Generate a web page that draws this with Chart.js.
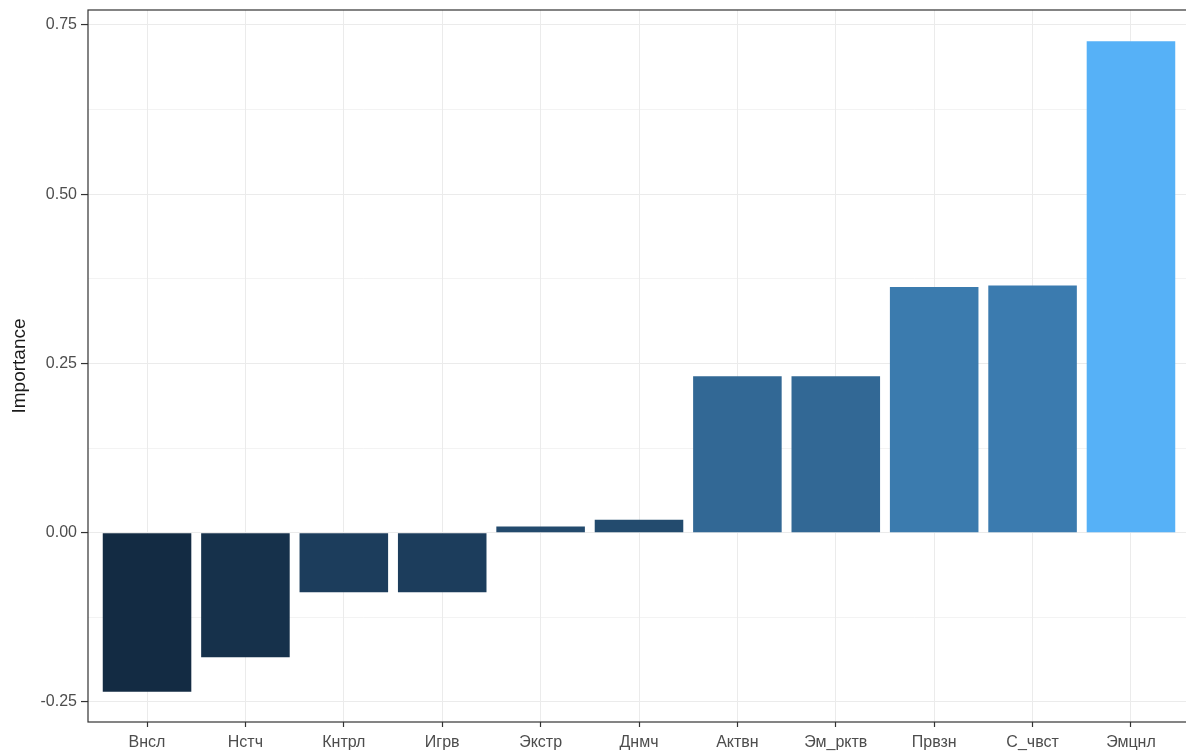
<!DOCTYPE html>
<html>
<head>
<meta charset="utf-8">
<script src="https://cdn.jsdelivr.net/npm/chart.js@4"></script>
<style>
    html, body { margin: 0; padding: 0; background: #fff; overflow: hidden; }
    #wrap { width: 1190px; height: 751px; }
</style>
</head>
<body>
<div id="wrap"><canvas id="chart"></canvas></div>
<script>
// ===== DATA =====
const categories = ['Внсл', 'Нстч', 'Кнтрл', 'Игрв', 'Экстр', 'Днмч', 'Актвн', 'Эм_рктв', 'Првзн', 'С_чвст', 'Эмцнл'];
const importance = [-0.235, -0.184, -0.088, -0.088, 0.009, 0.019, 0.231, 0.231, 0.363, 0.365, 0.726];
const yTicks = [-0.25, 0, 0.25, 0.5, 0.75];

// ===== COLOUR (ggplot-style gradient in Lab space) =====
const LOW = '#132B43', HIGH = '#56B1F7';

function hexToRgb(h) {
    return [1, 3, 5].map(i => parseInt(h.substr(i, 2), 16) / 255);
}
function toLin(c) { return c <= 0.04045 ? c / 12.92 : Math.pow((c + 0.055) / 1.055, 2.4); }
function fromLin(c) { return c <= 0.0031308 ? 12.92 * c : 1.055 * Math.pow(c, 1 / 2.4) - 0.055; }
const WP = [0.95047, 1, 1.08883];

function rgbToLab(rgb) {
    const [r, g, b] = rgb.map(toLin);
    const xyz = [
        r * 0.4124 + g * 0.3576 + b * 0.1805,
        r * 0.2126 + g * 0.7152 + b * 0.0722,
        r * 0.0193 + g * 0.1192 + b * 0.9505
    ].map((v, i) => v / WP[i]);
    const f = t => t > 0.008856 ? Math.cbrt(t) : 7.787 * t + 16 / 116;
    const [fx, fy, fz] = xyz.map(f);
    return [116 * fy - 16, 500 * (fx - fy), 200 * (fy - fz)];
}
function labToRgb(lab) {
    const fy = (lab[0] + 16) / 116, fx = fy + lab[1] / 500, fz = fy - lab[2] / 200;
    const inv = t => t * t * t > 0.008856 ? t * t * t : (t - 16 / 116) / 7.787;
    const [x, y, z] = [inv(fx), inv(fy), inv(fz)].map((v, i) => v * WP[i]);
    const r = x * 3.2406 + y * -1.5372 + z * -0.4986;
    const g = x * -0.9689 + y * 1.8758 + z * 0.0415;
    const b = x * 0.0557 + y * -0.2040 + z * 1.0570;
    return [r, g, b].map(c => Math.round(Math.min(1, Math.max(0, fromLin(c))) * 255));
}
const labLow = rgbToLab(hexToRgb(LOW)), labHigh = rgbToLab(hexToRgb(HIGH));
const vMin = Math.min(...importance), vMax = Math.max(...importance);
function fillFor(v) {
    const t = (v - vMin) / (vMax - vMin);
    const lab = labLow.map((l, i) => l + (labHigh[i] - l) * t);
    const [r, g, b] = labToRgb(lab);
    return `rgb(${r},${g},${b})`;
}

// ===== PANEL BORDER =====
const panelBorder = {
    id: 'panelBorder',
    afterDraw(chart) {
        const a = chart.chartArea, ctx = chart.ctx;
        ctx.save();
        ctx.strokeStyle = '#333333';
        ctx.lineWidth = 1.2;
        ctx.strokeRect(a.left, a.top, a.right - a.left, a.bottom - a.top);
        ctx.restore();
    }
};

const isMajor = v => yTicks.some(t => Math.abs(t - v) < 1e-6);

new Chart(document.getElementById('chart'), {
    type: 'bar',
    data: {
        datasets: [{
            data: importance.map((v, i) => ({ x: i + 1, y: v })),
            backgroundColor: importance.map(fillFor),
            borderWidth: 0,
            categoryPercentage: 1,
            barPercentage: 0.9
        }]
    },
    options: {
        responsive: true,
        maintainAspectRatio: false,
        animation: false,
        layout: { padding: { top: 10, right: 0, left: 0, bottom: 0 } },
        plugins: { legend: { display: false }, tooltip: { enabled: false } },
        scales: {
            x: {
                type: 'linear',
                min: 0.4,
                max: 11.6,
                offset: false,
                afterBuildTicks: axis => { axis.ticks = categories.map((c, i) => ({ value: i + 1 })); },
                afterFit: axis => { axis.height = 29; axis.paddingLeft = 0; axis.paddingRight = 0; },
                ticks: {
                    callback: v => categories[Math.round(v) - 1],
                    color: '#4d4d4d',
                    font: { family: 'Liberation Sans', size: 16 },
                    padding: 6,
                    maxRotation: 0,
                    autoSkip: false
                },
                grid: { offset: false, color: '#ebebeb', lineWidth: 1, tickLength: 5, tickColor: '#333333', tickWidth: 1.2 },
                border: { display: false }
            },
            y: {
                min: -0.2796,
                max: 0.772,
                afterBuildTicks: axis => {
                    const t = [];
                    for (let v = -0.25; v <= 0.75 + 1e-9; v += 0.125) t.push({ value: Math.round(v * 1000) / 1000 });
                    axis.ticks = t;
                },
                afterFit: axis => { axis.width = 88; axis.paddingTop = 0; axis.paddingBottom = 0; },
                title: {
                    display: true,
                    text: 'Importance',
                    color: '#1a1a1a',
                    font: { family: 'Liberation Sans', size: 19 },
                    padding: { top: 8, bottom: 0 }
                },
                ticks: {
                    callback: v => isMajor(v) ? v.toFixed(2) : '',
                    color: '#4d4d4d',
                    font: { family: 'Liberation Sans', size: 16 },
                    padding: 4
                },
                grid: {
                    color: '#ebebeb',
                    lineWidth: ctx => isMajor(ctx.tick.value) ? 1.1 : 0.6,
                    tickLength: 7,
                    tickColor: ctx => isMajor(ctx.tick.value) ? '#333333' : 'rgba(0,0,0,0)',
                    tickWidth: 1.2
                },
                border: { display: false }
            }
        }
    },
    plugins: [panelBorder]
});
</script>
</body>
</html>
